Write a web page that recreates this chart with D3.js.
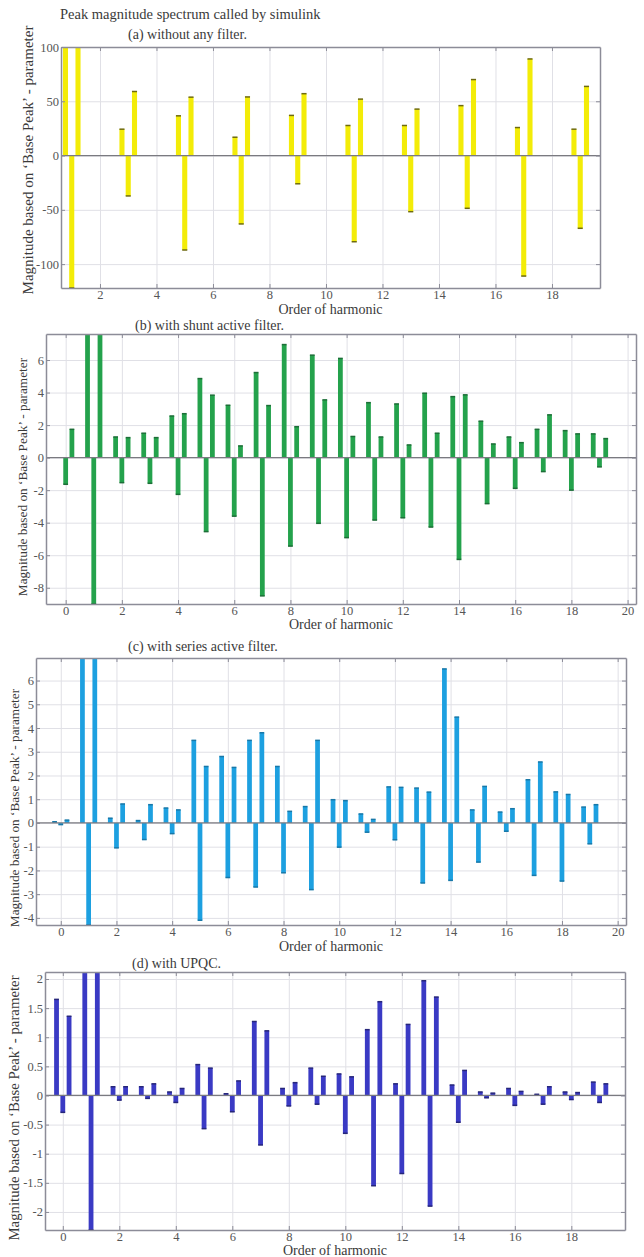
<!DOCTYPE html>
<html>
<head>
<meta charset="utf-8">
<style>
    body { margin: 0; background: #fff; }
    text { font-family: "Liberation Serif", "DejaVu Serif", serif; }
</style>
</head>
<body>
    <div id="chart"></div>

    <script src="https://d3js.org/d3.v7.min.js"></script>
    <script type="text/javascript">
        // (a) only odd harmonics carry a value
        var harmA = [1, 3, 5, 7, 9, 11, 13, 15, 17, 19];
        var leftA = [100, 24.3, 36.6, 16.9, 37, 27.7, 27.7, 46, 25.8, 24.3];
        var midA = [-122, -37.2, -87, -63, -26, -79.4, -51.7, -48.6, -111, -67];
        var rightA = [100, 59, 53.8, 54, 57, 52, 42.8, 70, 89, 63.7];

        var harm = [0, 1, 2, 3, 4, 5, 6, 7, 8, 9, 10, 11, 12, 13, 14, 15, 16, 17, 18, 19];

        var leftB = [0, 7.6, 1.27, 1.5, 2.56, 4.86, 3.22, 5.23, 6.95, 6.3, 6.1, 3.38, 3.3, 3.96, 3.75, 2.24, 1.27, 1.74, 1.66, 1.46];
        var midB = [-1.64, -9, -1.54, -1.58, -2.26, -4.55, -3.6, -8.5, -5.44, -4.04, -4.92, -3.84, -3.7, -4.27, -6.26, -2.83, -1.89, -0.86, -2.0, -0.57];
        var rightB = [1.74, 7.6, 1.23, 1.23, 2.7, 3.84, 0.72, 3.2, 1.9, 3.55, 1.3, 1.27, 0.78, 1.5, 3.86, 0.84, 0.92, 2.63, 1.46, 1.17];

        var leftC = [0.05, 7, 0.2, 0.1, 0.63, 3.48, 2.8, 3.48, 2.38, 0.69, 0.98, 0.38, 1.52, 1.47, 6.49, 0.55, 0.46, 1.82, 1.31, 0.67];
        var midC = [-0.07, -4.3, -1.05, -0.7, -0.45, -4.1, -2.3, -2.7, -2.1, -2.81, -1.02, -0.39, -0.71, -2.53, -2.42, -1.65, -0.35, -2.21, -2.45, -0.88];
        var rightC = [0.12, 7, 0.8, 0.77, 0.55, 2.38, 2.34, 3.8, 0.49, 3.48, 0.94, 0.15, 1.5, 1.3, 4.46, 1.54, 0.6, 2.57, 1.2, 0.77];

        var leftD = [1.65, 2.12, 0.15, 0.15, 0.06, 0.53, 0.03, 1.27, 0.12, 0.47, 0.37, 1.13, 0.2, 1.97, 0.18, 0.06, 0.12, 0.02, 0.06, 0.23];
        var midD = [-0.29, -2.31, -0.08, -0.05, -0.12, -0.57, -0.28, -0.85, -0.18, -0.15, -0.65, -1.55, -1.34, -1.9, -0.46, -0.04, -0.17, -0.15, -0.07, -0.12];
        var rightD = [1.36, 2.12, 0.15, 0.2, 0.12, 0.47, 0.25, 1.11, 0.22, 0.33, 0.32, 1.61, 1.22, 1.69, 0.43, 0.04, 0.07, 0.15, 0.05, 0.2];

        var yTicksA = [-100, -50, 0, 50, 100];
        var yTicksB = [-8, -6, -4, -2, 0, 2, 4, 6];
        var yTicksC = [-4, -3, -2, -1, 0, 1, 2, 3, 4, 5, 6];
        var yTicksD = [-2, -1.5, -1, -0.5, 0, 0.5, 1, 1.5, 2];
        var xTicksA = [2, 4, 6, 8, 10, 12, 14, 16, 18];
        var xTicksBC = [0, 2, 4, 6, 8, 10, 12, 14, 16, 18, 20];
        var xTicksD = [0, 2, 4, 6, 8, 10, 12, 14, 16, 18];

        var w = 644;
        var h = 1257;
        var offset = 0.222;   // grouped bar spacing
        var serif = '"Liberation Serif", "DejaVu Serif", serif';
        var yLabel = "Magnitude based on \u2018Base Peak\u2019 - parameter";

        var svg = d3.select('#chart')
            .append('svg')
            .attr('width', w)
            .attr('height', h);

        svg.append('rect')
            .attr('width', w)
            .attr('height', h)
            .attr('fill', '#fff');

        svg.append('text')
            .attr('x', 60)
            .attr('y', 19)
            .attr('font-family', serif)
            .attr('font-size', '14.5px')
            .attr('fill', '#3a3a3a')
            .text('Peak magnitude spectrum called by simulink');

        function plain(d) { return String(d); }

        function panel(p) {
            var x = d3.scaleLinear().domain(p.xd).range([p.l, p.r]);
            var y = d3.scaleLinear().domain(p.yd).range([p.b, p.t]);
            var g = svg.append('g');

            g.append('clipPath').attr('id', 'clip' + p.id)
                .append('rect')
                .attr('x', p.l).attr('y', p.t)
                .attr('width', p.r - p.l).attr('height', p.b - p.t);

            // grid
            g.append('g')
                .attr('transform', 'translate(0,' + p.b + ')')
                .call(d3.axisBottom(x).tickValues(p.xt).tickSize(-(p.b - p.t)).tickFormat(''))
                .call(function (s) {
                    s.select('.domain').remove();
                    s.selectAll('line').attr('stroke', '#e0e0e6');
                });
            g.append('g')
                .attr('transform', 'translate(' + p.l + ',0)')
                .call(d3.axisLeft(y).tickValues(p.yt).tickSize(-(p.r - p.l)).tickFormat(''))
                .call(function (s) {
                    s.select('.domain').remove();
                    s.selectAll('line').attr('stroke', '#e0e0e6');
                });

            var rows = [];
            p.harm.forEach(function (hh, i) {
                rows.push({ x: hh - offset, v: p.left[i] });
                rows.push({ x: hh, v: p.mid[i] });
                rows.push({ x: hh + offset, v: p.right[i] });
            });

            var bw = x(p.bw) - x(0);
            var bars = g.append('g').attr('clip-path', 'url(#clip' + p.id + ')');

            bars.selectAll('rect')
                .data(rows)
                .enter()
                .append('rect')
                .attr('x', function (d) { return x(d.x) - bw / 2; })
                .attr('width', bw)
                .attr('y', function (d) { return Math.min(y(d.v), y(0)); })
                .attr('height', function (d) { return Math.abs(y(d.v) - y(0)); })
                .attr('fill', p.color);

            bars.selectAll('line.cap')
                .data(rows.filter(function (d) { return d.v != 0; }))
                .enter()
                .append('line')
                .attr('class', 'cap')
                .attr('x1', function (d) { return x(d.x) - bw / 2; })
                .attr('x2', function (d) { return x(d.x) + bw / 2; })
                .attr('y1', function (d) { return y(d.v); })
                .attr('y2', function (d) { return y(d.v); })
                .attr('stroke', p.cap)
                .attr('stroke-width', 1.5);

            // zero baseline
            g.append('line')
                .attr('x1', p.l).attr('x2', p.r)
                .attr('y1', y(0)).attr('y2', y(0))
                .attr('stroke', '#7a7a80')
                .attr('stroke-width', 1.3);

            // axes with inward ticks on all four sides
            var axCol = '#8c8c98';
            var bottom = g.append('g')
                .attr('transform', 'translate(0,' + p.b + ')')
                .call(d3.axisBottom(x).tickValues(p.xt).tickSizeInner(-4).tickSizeOuter(0).tickPadding(2).tickFormat(plain));
            var top = g.append('g')
                .attr('transform', 'translate(0,' + p.t + ')')
                .call(d3.axisTop(x).tickValues(p.xt).tickSizeInner(-4).tickSizeOuter(0).tickFormat(''));
            var left = g.append('g')
                .attr('transform', 'translate(' + p.l + ',0)')
                .call(d3.axisLeft(y).tickValues(p.yt).tickSizeInner(-4).tickSizeOuter(0).tickPadding(2).tickFormat(plain));
            var right = g.append('g')
                .attr('transform', 'translate(' + p.r + ',0)')
                .call(d3.axisRight(y).tickValues(p.yt).tickSizeInner(-4).tickSizeOuter(0).tickFormat(''));

            [bottom, top, left, right].forEach(function (a) {
                a.attr('font-family', serif).attr('font-size', 12.5);
                a.select('.domain').attr('stroke', axCol).attr('stroke-width', 1.5);
                a.selectAll('line').attr('stroke', axCol);
                a.selectAll('text').attr('fill', '#555');
            });

            svg.append('text')
                .attr('x', p.tx)
                .attr('y', p.ty)
                .attr('font-family', serif)
                .attr('font-size', '14px')
                .attr('fill', '#3a3a3a')
                .text(p.title);

            svg.append('text')
                .attr('x', (p.l + p.r) / 2)
                .attr('y', p.xly)
                .attr('text-anchor', 'middle')
                .attr('font-family', serif)
                .attr('font-size', '14px')
                .attr('fill', '#3a3a3a')
                .text('Order of harmonic');

            svg.append('text')
                .attr('transform', 'translate(' + p.ylx + ',' + p.yly + ') rotate(-90)')
                .attr('text-anchor', 'middle')
                .attr('font-family', serif)
                .attr('font-size', p.ylf)
                .attr('fill', '#3a3a3a')
                .text(yLabel);
        }

        panel({
            id: 'a', l: 61, r: 600, t: 47, b: 288,
            xd: [0.62, 19.7], yd: [-122, 100], xt: xTicksA, yt: yTicksA,
            harm: harmA, left: leftA, mid: midA, right: rightA, bw: 0.18,
            color: '#f3ec08', cap: '#6e6a10',
            title: '(a) without any filter.', tx: 128, ty: 39,
            xly: 314, ylx: 33, yly: 160, ylf: '15px'
        });

        panel({
            id: 'b', l: 46, r: 636, t: 334, b: 604,
            xd: [-0.7, 20.3], yd: [-9, 7.6], xt: xTicksBC, yt: yTicksB,
            harm: harm, left: leftB, mid: midB, right: rightB, bw: 0.17,
            color: '#24a24c', cap: '#1d6e38',
            title: '(b) with shunt active filter.', tx: 135, ty: 330,
            xly: 629, ylx: 27, yly: 477, ylf: '13.3px'
        });

        panel({
            id: 'c', l: 36, r: 626, t: 658, b: 925,
            xd: [-0.89, 20.3], yd: [-4.3, 6.95], xt: xTicksBC, yt: yTicksC,
            harm: harm, left: leftC, mid: midC, right: rightC, bw: 0.17,
            color: '#1da0e0', cap: '#1878a8',
            title: '(c) with series active filter.', tx: 128, ty: 651,
            xly: 951, ylx: 19, yly: 808, ylf: '13.3px'
        });

        panel({
            id: 'd', l: 45, r: 625, t: 972, b: 1230,
            xd: [-0.63, 19.9], yd: [-2.31, 2.12], xt: xTicksD, yt: yTicksD,
            harm: harm, left: leftD, mid: midD, right: rightD, bw: 0.17,
            color: '#3a3ac4', cap: '#26267a',
            title: '(d) with UPQC.', tx: 132, ty: 968,
            xly: 1255, ylx: 19, yly: 1108, ylf: '14.8px'
        });
    </script>
</body>

</html>
